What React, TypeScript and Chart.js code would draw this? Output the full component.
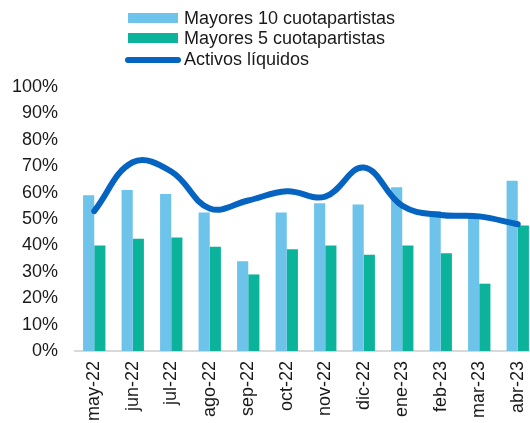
import React, { useEffect, useRef } from "react";
import { Chart, registerables } from "chart.js";

Chart.register(...registerables);

const categories = ["may-22", "jun-22", "jul-22", "ago-22", "sep-22", "oct-22", "nov-22", "dic-22", "ene-23", "feb-23", "mar-23", "abr-23"];
const mayores10 = [59, 61, 59.5, 52.5, 34, 52.5, 56, 55.5, 62, 53, 50.5, 64.5];
const mayores5 = [40, 42.5, 43, 39.5, 29, 38.5, 40, 36.5, 40, 37, 25.5, 47.5];
const activosLiquidos = [53, 71.5, 68, 54, 57, 60.5, 58.5, 69.5, 55, 51.5, 51, 48];
const seriesNames = ["Mayores 10 cuotapartistas", "Mayores 5 cuotapartistas", "Activos líquidos"];

const LIGHT = "#6ec3ea";
const GREEN = "#0bb39b";
const DARK = "#0563c1";
const FONT = "'Liberation Sans', Arial, sans-serif";
const CW = 560;
const CH = 440;

export default function App() {
  const ref = useRef<HTMLCanvasElement | null>(null);
  useEffect(() => {
    if (!ref.current) return;
    const chart = new Chart(ref.current, {
      type: "bar",
      data: {
        labels: categories,
        datasets: [
          { type: "line", label: seriesNames[2], data: activosLiquidos, borderColor: DARK, backgroundColor: DARK, borderWidth: 6, tension: 0.4, pointRadius: 0, borderCapStyle: "round", borderJoinStyle: "round", order: 0 } as any,
          { type: "bar", label: seriesNames[0], data: mayores10, backgroundColor: LIGHT, categoryPercentage: 0.58, barPercentage: 1, order: 1 },
          { type: "bar", label: seriesNames[1], data: mayores5, backgroundColor: GREEN, categoryPercentage: 0.58, barPercentage: 1, order: 1 },
        ],
      },
      options: {
        responsive: false,
        animation: false,
        layout: { padding: { top: 87, left: 0, right: 23, bottom: 0 } },
        plugins: { legend: { display: false }, tooltip: { enabled: false }, title: { display: false } },
        scales: {
          x: {
            grid: { display: false, drawTicks: false },
            border: { display: true, color: "#d9d9d9", width: 2 },
            ticks: { font: { family: FONT, size: 18 }, color: "#1a1a1a", minRotation: 90, maxRotation: 90, padding: 10, autoSkip: false },
            afterFit: (s: any) => { s.height = CH - 351; },
          },
          y: {
            min: 0,
            max: 100,
            grid: { display: false, drawTicks: false },
            border: { display: false },
            ticks: { stepSize: 10, font: { family: FONT, size: 18 }, color: "#1a1a1a", padding: 17, callback: (v: any) => v + "%" },
            afterFit: (s: any) => { s.width = 75; },
          },
        },
      },
    });
    return () => chart.destroy();
  }, []);

  const textStyle: React.CSSProperties = { position: "absolute", left: 184, fontFamily: FONT, fontSize: 18, color: "#1a1a1a", lineHeight: "21px", whiteSpace: "nowrap" };

  return (
    <div style={{ position: "fixed", left: 0, top: 0, width: 530, height: 423, overflow: "hidden", background: "#fff" }}>
      <canvas ref={ref} width={CW} height={CH} style={{ position: "absolute", left: 0, top: 0, width: CW, height: CH }} />
      <div style={{ position: "absolute", left: 128, top: 13, width: 50, height: 10, background: LIGHT }} />
      <div style={{ ...textStyle, top: 8 }}>{seriesNames[0]}</div>
      <div style={{ position: "absolute", left: 128, top: 33, width: 50, height: 10, background: GREEN }} />
      <div style={{ ...textStyle, top: 28 }}>{seriesNames[1]}</div>
      <div style={{ position: "absolute", left: 125, top: 57, width: 56, height: 6, borderRadius: 3, background: DARK }} />
      <div style={{ ...textStyle, top: 49 }}>{seriesNames[2]}</div>
    </div>
  );
}
